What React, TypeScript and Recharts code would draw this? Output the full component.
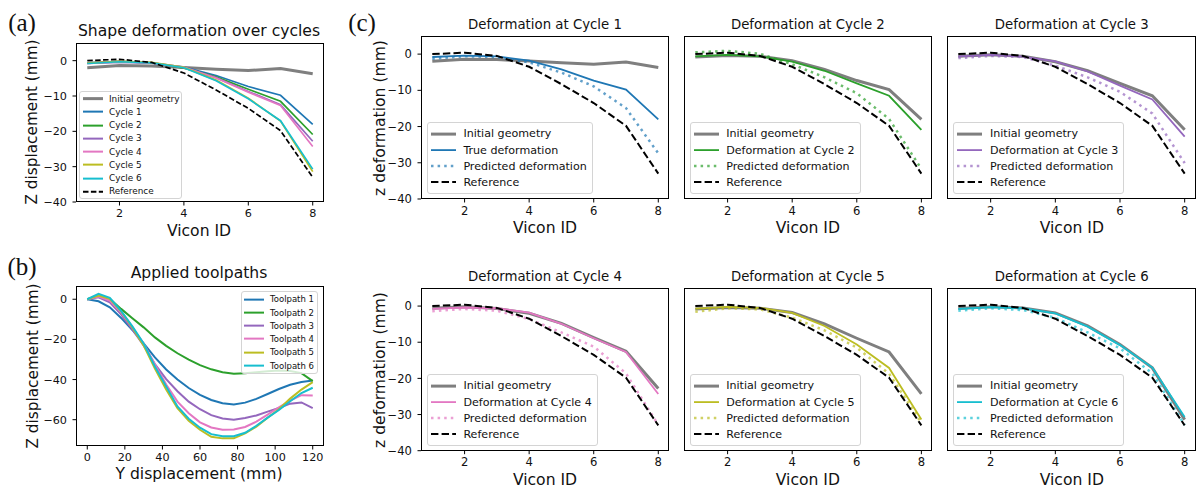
import React from 'react';
import { LineChart, Line, XAxis, YAxis } from 'recharts';

// ---------------- data ----------------
const viconIds = [1, 2, 3, 4, 5, 6, 7, 8];
const initialGeometry = [-2.0, -1.4, -1.5, -1.9, -2.4, -2.8, -2.2, -3.7];
const referenceShape = [0.0, 0.4, -0.5, -3.5, -8.3, -13.5, -19.8, -33.0];
const cycle1 = [-0.8, -0.4, -0.6, -1.8, -4.2, -7.3, -9.8, -18.0];
const cycle2 = [-0.6, -0.2, -0.6, -2.1, -4.6, -8.1, -11.5, -20.9];
const cycle3 = [-0.6, -0.2, -0.7, -2.0, -4.8, -8.7, -12.5, -22.8];
const cycle4 = [-0.8, -0.4, -0.6, -1.8, -4.9, -8.9, -12.7, -24.3];
const cycle5 = [-0.7, -0.2, -0.5, -1.9, -5.5, -10.6, -17.1, -31.4];
const cycle6 = [-0.8, -0.3, -0.6, -2.0, -5.7, -10.8, -17.0, -30.7];
const predicted1 = [-1.3, -0.6, -0.8, -2.3, -5.1, -8.9, -14.9, -27.4];
const predicted2 = [0.5, 0.9, 0.1, -2.8, -6.4, -10.8, -17.9, -31.7];
const predicted3 = [-1.1, -0.5, -0.8, -3.2, -6.4, -10.4, -16.4, -30.1];
const predicted4 = [-1.4, -0.8, -1.3, -3.6, -7.3, -11.2, -18.6, -32.9];
const predicted5 = [-1.6, -0.6, -0.9, -3.2, -6.7, -11.5, -18.7, -32.3];
const predicted6 = [-1.3, -0.6, -1.1, -3.2, -7.3, -11.7, -18.6, -32.9];

const toolpathY = [0, 6, 12, 18, 24, 30, 36, 42, 48, 54, 60, 66, 72, 78, 84, 90, 96, 102, 108, 114, 120];
const toolpath1 = [0, -1, -4, -9.3, -15.3, -22, -29, -35, -40, -44.2, -47.6, -50.2, -51.8, -52.4, -51.5, -49.6, -47.2, -44.7, -42.6, -41.2, -40.5];
const toolpath2 = [0, 1.8, 0.2, -4.8, -9.5, -14, -19, -23.2, -26.9, -30.1, -32.8, -34.9, -36.4, -37.1, -36.8, -36.4, -35.9, -35.5, -35.7, -36.8, -40.8];
const toolpath3 = [0, 1, -1.5, -7.5, -15, -23, -32.3, -39.8, -45.8, -51, -54.8, -57.7, -59.4, -60, -59.2, -57.9, -56, -54.2, -52, -51.4, -54.2];
const toolpath4 = [0, 1.3, -0.7, -6.5, -14, -22, -32.5, -42.5, -51, -56.8, -61.3, -63.9, -65, -64.9, -63.6, -61, -57.5, -53.8, -50.5, -47.8, -47.9];
const toolpath5 = [0, 1.8, 0.2, -6, -14, -23, -34.5, -45, -54.3, -60.5, -65, -68.5, -69.3, -69.3, -66.8, -63.5, -59, -54.8, -49.5, -45, -41.3];
const toolpath6 = [0, 2.7, 0.7, -5.8, -13.5, -22, -33.5, -43.5, -53.4, -59.5, -64, -67.2, -68.2, -68.2, -66.5, -63, -59, -55.2, -50.8, -46.7, -44.1];

const viconTicks = [2, 4, 6, 8];
const zTicks = [0, -10, -20, -30, -40];
const toolYTicks = [0, 20, 40, 60, 80, 100, 120];
const toolZTicks = [0, -20, -40, -60];

const cycleColors = ['#1f77b4', '#2ca02c', '#9467bd', '#e377c2', '#bcbd22', '#17becf'];
const GRAY = '#7f7f7f';
const cycles = [cycle1, cycle2, cycle3, cycle4, cycle5, cycle6];
const predictions = [predicted1, predicted2, predicted3, predicted4, predicted5, predicted6];
const toolpaths = [toolpath1, toolpath2, toolpath3, toolpath4, toolpath5, toolpath6];

// ---------------- helpers ----------------
const FONT = '"DejaVu Sans", Verdana, sans-serif';
const fmt = (v: number) => (v < 0 ? '\u2212' + Math.abs(v) : String(v));

type Series = { key: string; name: string; color: string; width: number; dash?: string; opacity?: number };
type Box = { x: number; y: number; w: number; h: number };

function Plot(props: {
  box: Box; data: any[]; xDomain: number[]; xTicks: number[]; yDomain: number[]; yTicks: number[];
  showYLabels: boolean; series: Series[]; tickFont: number;
}) {
  const { box, data, xDomain, xTicks, yDomain, yTicks, showYLabels, series, tickFont } = props;
  const L = 60, T = 6, R = 6, B = 30;
  const tickStyle = { fill: '#111', fontSize: tickFont, fontFamily: FONT };
  return (
    <div style={{ position: 'absolute', left: box.x - L, top: box.y - T }}>
      <LineChart width={box.w + L + R} height={box.h + T + B} data={data} margin={{ top: T, right: R, left: 0, bottom: 0 }}>
        <XAxis dataKey="x" type="number" domain={xDomain} ticks={xTicks} allowDataOverflow interval={0}
          height={B} tickSize={3.5} tickMargin={4} axisLine={false} stroke="#000" tick={tickStyle} tickFormatter={fmt} />
        <YAxis type="number" domain={yDomain} ticks={yTicks} allowDataOverflow interval={0}
          width={L} tickSize={3.5} tickMargin={5.5} axisLine={false} stroke="#000"
          tick={showYLabels ? tickStyle : false} tickFormatter={fmt} />
        {series.map((s) => (
          <Line key={s.key} dataKey={s.key} name={s.name} type="linear" stroke={s.color} strokeWidth={s.width}
            strokeDasharray={s.dash} strokeOpacity={s.opacity ?? 1} dot={false} activeDot={false}
            isAnimationActive={false} />
        ))}
      </LineChart>
      <div style={{ position: 'absolute', left: L, top: T, width: box.w, height: box.h, border: '1px solid #000', boxSizing: 'border-box', pointerEvents: 'none' }} />
    </div>
  );
}

function LegendBox(props: { left: number; top: number; items: Series[]; fontSize: number; rowH: number; sampleW: number; gap: number; padL: number; padR: number; padY: number }) {
  const { left, top, items, fontSize, rowH, sampleW, gap, padL, padR, padY } = props;
  return (
    <div style={{ position: 'absolute', left, top, border: '1px solid #d4d4d4', borderRadius: 3, background: 'rgba(255,255,255,0.8)', padding: `${padY}px ${padR}px ${padY}px ${padL}px`, fontFamily: FONT, fontSize, color: '#111' }}>
      {items.map((it) => (
        <div key={it.key} style={{ display: 'flex', alignItems: 'center', height: rowH, whiteSpace: 'nowrap' }}>
          <svg width={sampleW} height={rowH} style={{ display: 'block' }}>
            <line x1={0} x2={sampleW} y1={rowH / 2} y2={rowH / 2} stroke={it.color} strokeWidth={it.width}
              strokeDasharray={it.dash} strokeOpacity={it.opacity ?? 1} />
          </svg>
          <span style={{ marginLeft: gap }}>{it.name}</span>
        </div>
      ))}
    </div>
  );
}

function Txt(props: { x: number; y: number; size: number; text: string; rotate?: boolean; serif?: boolean }) {
  const { x, y, size, text, rotate, serif } = props;
  return (
    <div style={{ position: 'absolute', left: x, top: y, transform: `translate(-50%,-50%)${rotate ? ' rotate(-90deg)' : ''}`, fontSize: size, fontFamily: serif ? '"Liberation Serif", "Times New Roman", serif' : FONT, lineHeight: 1, whiteSpace: 'nowrap', color: '#111' }}>
      {text}
    </div>
  );
}

// ---------------- layout ----------------
const boxA: Box = { x: 76, y: 43, w: 248, h: 159 };
const boxB: Box = { x: 76, y: 286, w: 248, h: 160 };
const colX = [420.7, 683.5, 947.3];
const colW = [248.6, 248.7, 249];
const rowY = [36, 288.3];
const rowH = [163, 162.7];

export default function App() {
  const dataA = viconIds.map((x, i) => {
    const row: any = { x, init: initialGeometry[i], ref: referenceShape[i] };
    cycles.forEach((c, k) => (row['c' + (k + 1)] = c[i]));
    return row;
  });
  const seriesA: Series[] = [
    { key: 'init', name: 'Initial geometry', color: GRAY, width: 3 },
    ...cycles.map((_, k) => ({ key: 'c' + (k + 1), name: 'Cycle ' + (k + 1), color: cycleColors[k], width: 1.7 })),
    { key: 'ref', name: 'Reference', color: '#000', width: 1.7, dash: '5.5 2.4' },
  ];
  const legendA: Series[] = seriesA.map((s) => ({ ...s, width: s.key === 'init' ? 3 : 2, dash: s.key === 'ref' ? '5.5 2.4' : undefined }));

  const dataB = toolpathY.map((x, i) => {
    const row: any = { x };
    toolpaths.forEach((t, k) => (row['t' + (k + 1)] = t[i]));
    return row;
  });
  const seriesB: Series[] = toolpaths.map((_, k) => ({ key: 't' + (k + 1), name: 'Toolpath ' + (k + 1), color: cycleColors[k], width: 2 }));

  const cPanels = cycles.map((c, k) => {
    const init = k === 0 ? initialGeometry : cycles[k - 1];
    const data = viconIds.map((x, i) => ({ x, init: init[i], trueDef: c[i], pred: predictions[k][i], ref: referenceShape[i] }));
    const series: Series[] = [
      { key: 'init', name: 'Initial geometry', color: GRAY, width: 3 },
      { key: 'trueDef', name: k === 0 ? 'True deformation' : 'Deformation at Cycle ' + (k + 1), color: cycleColors[k], width: 1.8 },
      { key: 'pred', name: 'Predicted deformation', color: cycleColors[k], width: 2.5, dash: '2.5 4.1', opacity: 0.7 },
      { key: 'ref', name: 'Reference', color: '#000', width: 2, dash: '7.4 3.2' },
    ];
    const col = k % 3;
    const row = Math.floor(k / 3);
    const box: Box = { x: colX[col], y: rowY[row], w: colW[col], h: rowH[row] };
    return { data, series, box, col, row, k };
  });

  return (
    <div style={{ position: 'absolute', left: 0, top: 0, width: 1197, height: 494, background: '#fff', overflow: 'hidden' }}>
      {/* panel (a) */}
      <Plot box={boxA} data={dataA} xDomain={[0.65, 8.35]} xTicks={viconTicks} yDomain={[-40, 5]} yTicks={zTicks} showYLabels series={seriesA} tickFont={11.2} />
      <LegendBox left={79} top={91} items={legendA} fontSize={8.9} rowH={13.25} sampleW={20} gap={6} padL={3} padR={2} padY={0} />
      <Txt x={22} y={22} size={25} text="(a)" serif />
      <Txt x={199} y={32} size={15.6} text="Shape deformation over cycles" />
      <Txt x={199} y={232} size={15.6} text="Vicon ID" />
      <Txt x={33} y={122} size={15.3} text="Z displacement (mm)" rotate />

      {/* panel (b) */}
      <Plot box={boxB} data={dataB} xDomain={[-6, 126]} xTicks={toolYTicks} yDomain={[-73.1, 6.6]} yTicks={toolZTicks} showYLabels series={seriesB} tickFont={11.2} />
      <LegendBox left={241} top={290.7} items={seriesB} fontSize={8.5} rowH={13.25} sampleW={20} gap={6} padL={2} padR={3} padY={1} />
      <Txt x={22} y={266} size={25} text="(b)" serif />
      <Txt x={199} y={274} size={15.6} text="Applied toolpaths" />
      <Txt x={199} y={475} size={15.6} text="Y displacement (mm)" />
      <Txt x={34} y={366} size={15.3} text="Z displacement (mm)" rotate />

      {/* panel (c) */}
      <Txt x={362} y={22} size={25} text="(c)" serif />
      {cPanels.map((p) => (
        <React.Fragment key={p.k}>
          <Plot box={p.box} data={p.data} xDomain={[0.65, 8.35]} xTicks={viconTicks} yDomain={[-40, 5]} yTicks={zTicks} showYLabels={p.col === 0} series={p.series} tickFont={11.6} />
          <LegendBox left={p.box.x + 6} top={p.box.y + p.box.h - 6.3 - 70.4} items={p.series} fontSize={11.1} rowH={16.2} sampleW={25} gap={7.7} padL={3} padR={5} padY={2.5} />
          <Txt x={p.box.x + p.box.w / 2} y={p.box.y - 11} size={13.3} text={'Deformation at Cycle ' + (p.k + 1)} />
          <Txt x={p.box.x + p.box.w / 2} y={p.box.y + p.box.h + 30} size={15.6} text="Vicon ID" />
          {p.col === 0 && <Txt x={381} y={p.box.y + p.box.h / 2} size={15.6} text="z deformation (mm)" rotate />}
        </React.Fragment>
      ))}
    </div>
  );
}
